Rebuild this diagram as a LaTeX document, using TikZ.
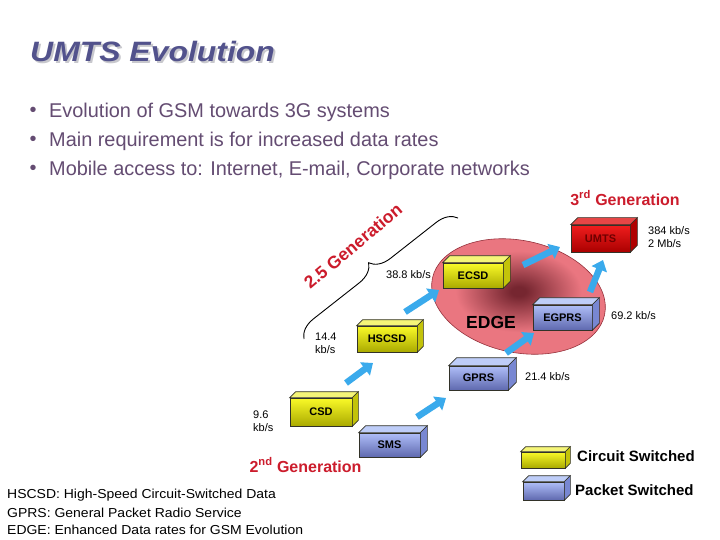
\documentclass[tikz,border=0pt]{standalone}
\usepackage{fontspec}
\setmainfont{Liberation Sans}
\usetikzlibrary{arrows.meta,decorations.pathreplacing,calc}
\definecolor{titleblue}{RGB}{82,82,140}
\definecolor{titleshadow}{RGB}{200,200,205}
\definecolor{bulletpurple}{RGB}{100,76,114}
\definecolor{genred}{RGB}{204,28,44}
\definecolor{arrowblue}{RGB}{58,170,236}
\definecolor{edgepink}{RGB}{234,118,128}
\definecolor{edgedark}{RGB}{118,38,48}
\definecolor{edgeborder}{RGB}{150,50,60}
\definecolor{ylight}{RGB}{250,250,40}
\definecolor{ydark}{RGB}{170,170,0}
\definecolor{ytopc}{RGB}{245,245,120}
\definecolor{ysidec}{RGB}{195,195,10}
\definecolor{blight}{RGB}{175,190,248}
\definecolor{bdark}{RGB}{95,105,175}
\definecolor{btopc}{RGB}{190,205,248}
\definecolor{bsidec}{RGB}{120,135,210}
\definecolor{rlight}{RGB}{240,30,30}
\definecolor{rdark}{RGB}{170,0,0}
\definecolor{rtopc}{RGB}{230,70,70}
\definecolor{rsidec}{RGB}{175,0,0}
\definecolor{umtstext}{RGB}{110,0,0}
\pgfdeclareradialshading{edgeshade}{\pgfpoint{0bp}{0bp}}{color(0bp)=(edgedark); color(2bp)=(edgedark); color(17bp)=(edgepink); color(50bp)=(edgepink)}
\newcommand{\cubebox}[8]{%
  \node[#7front, minimum width=#4pt, minimum height=#5pt] (#1) at (#2,#3) {#8};
  \filldraw[#7top] (#1.north west) -- ++(#6,-#6) -- ([shift={(#6,-#6)}]#1.north east) -- (#1.north east) -- cycle;
  \filldraw[#7side] (#1.north east) -- ++(#6,-#6) -- ([shift={(#6,-#6)}]#1.south east) -- (#1.south east) -- cycle;
}
\tikzset{
  cubeline/.style={draw={rgb,255:red,50;green,50;blue,40}, line width=0.6pt},
  boxtext/.style={font=\fontsize{11}{11}\selectfont\bfseries, inner sep=0pt},
  yfront/.style={cubeline, top color=ylight, bottom color=ydark, boxtext},
  ytop/.style={cubeline, fill=ytopc},
  yside/.style={cubeline, fill=ysidec},
  bfront/.style={cubeline, top color=blight, bottom color=bdark, boxtext},
  btop/.style={cubeline, fill=btopc},
  bside/.style={cubeline, fill=bsidec},
  rfront/.style={cubeline, top color=rlight, bottom color=rdark, boxtext, text=umtstext},
  rtop/.style={cubeline, fill=rtopc},
  rside/.style={cubeline, fill=rsidec},
  bluearrow/.style={-{Triangle[length=10pt,width=16pt]}, line width=6.5pt, draw=arrowblue},
  ratelabel/.style={font=\fontsize{11}{13}\selectfont, align=left, inner sep=0pt},
  genlabel/.style={font=\fontsize{16}{16}\selectfont\bfseries, text=genred, inner sep=0pt},
  bullettext/.style={font=\fontsize{19.9}{19.9}\selectfont, text=bulletpurple, anchor=west, inner sep=0pt},
  notetext/.style={font=\fontsize{13}{13}\selectfont, anchor=west, inner sep=0pt, xscale=1.075},
  legendtext/.style={font=\fontsize{15}{15}\selectfont\bfseries, anchor=west, inner sep=0pt}
}
\begin{document}
\begin{tikzpicture}[x=1pt,y=-1pt]
\useasboundingbox (0,0) rectangle (720,540);
\fill[white] (0,0) rectangle (720,540);

% title
\node[font=\fontsize{28}{28}\selectfont\bfseries\itshape, text=titleshadow, anchor=west, inner sep=0pt, xscale=1.14] (titleshadow) at (32,53) {UMTS Evolution};
\node[font=\fontsize{28}{28}\selectfont\bfseries\itshape, text=titleblue, anchor=west, inner sep=0pt, xscale=1.14] (title) at (30,51) {UMTS Evolution};

% bullets
\node[bullettext, anchor=center] (b1dot) at (33,112) {•};
\node[bullettext] (b1) at (49,112) {Evolution of GSM towards 3G systems};
\node[bullettext, anchor=center] (b2dot) at (33,141) {•};
\node[bullettext] (b2) at (49,141) {Main requirement is for increased data rates};
\node[bullettext, anchor=center] (b3dot) at (33,170) {•};
\node[bullettext] (b3) at (49,170) {Mobile access to: Internet, E-mail, Corporate networks};

% EDGE ellipse
\shade[shading=edgeshade, draw=edgeborder, line width=0.6pt, rotate around={-12:(518.5,296.5)}] (518.5,296.5) ellipse [x radius=88pt, y radius=56pt];
\node[font=\fontsize{17.5}{17.5}\selectfont\bfseries, inner sep=0pt] (edge) at (491,322) {EDGE};

% boxes
\cubebox{csd}{321}{412}{62}{28}{6}{y}{CSD}
\cubebox{hscsd}{387}{339}{60}{26}{6}{y}{HSCSD}
\cubebox{sms}{389.5}{445}{61}{24}{7}{b}{SMS}
\cubebox{gprs}{478.5}{378}{59}{24}{8}{b}{GPRS}
\cubebox{ecsd}{473}{275.5}{60}{25}{7}{y}{ECSD}
\cubebox{egprs}{562.5}{317.5}{59}{25}{7}{b}{EGPRS}
\cubebox{umts}{600.5}{238.5}{59}{27}{7}{r}{UMTS}

% arrows
\coordinate (a1s) at (346,383); \coordinate (a1e) at (373,363);
\coordinate (a2s) at (405,312); \coordinate (a2e) at (439,290);
\coordinate (a3s) at (417,417); \coordinate (a3e) at (446,398);
\coordinate (a4s) at (506,353); \coordinate (a4e) at (534,333);
\coordinate (a5s) at (523,265); \coordinate (a5e) at (560,247);
\coordinate (a6s) at (590,292); \coordinate (a6e) at (603,260);
\draw[bluearrow] (a1s) -- (a1e);
\draw[bluearrow] (a2s) -- (a2e);
\draw[bluearrow] (a3s) -- (a3e);
\draw[bluearrow] (a4s) -- (a4e);
\draw[bluearrow] (a5s) -- (a5e);
\draw[bluearrow] (a6s) -- (a6e);

% rate labels
\node[ratelabel, anchor=west] (r38) at (386,275) {38.8 kb/s};
\node[ratelabel, anchor=west] (r14) at (315,343) {14.4\\kb/s};
\node[ratelabel, anchor=west] (r96) at (253,421) {9.6\\kb/s};
\node[ratelabel, anchor=west] (r21) at (525,377) {21.4 kb/s};
\node[ratelabel, anchor=west] (r69) at (611,316) {69.2 kb/s};
\node[ratelabel, anchor=west] (r384) at (648,237.5) {384 kb/s\\2 Mb/s};

% generation labels
\node[genlabel] (g3) at (625,198) {3\textsuperscript{rd} Generation};
\node[genlabel] (g2) at (305.5,465) {2\textsuperscript{nd} Generation};
\node[font=\fontsize{17.5}{17.5}\selectfont\bfseries, text=genred, inner sep=0pt, rotate=40] (g25) at (353,246) {2.5 Generation};

% brace
\coordinate (br1) at (304,339);
\coordinate (br2) at (458,218);
\draw[decorate, decoration={brace, amplitude=20pt}, line width=0.9pt] (br1) -- (br2);

% notes
\node[notetext] (n1) at (7,495) {HSCSD: High-Speed Circuit-Switched Data};
\node[notetext] (n2) at (7,512.5) {GPRS: General Packet Radio Service};
\node[notetext] (n3) at (7,530) {EDGE: Enhanced Data rates for GSM Evolution};

% legend
\cubebox{legy}{543}{460}{44}{16}{5}{y}{}
\cubebox{legb}{543.5}{491}{41}{18}{6}{b}{}
\node[legendtext] (lc) at (577,456) {Circuit Switched};
\node[legendtext] (lp) at (575,490) {Packet Switched};
\end{tikzpicture}
\end{document}
